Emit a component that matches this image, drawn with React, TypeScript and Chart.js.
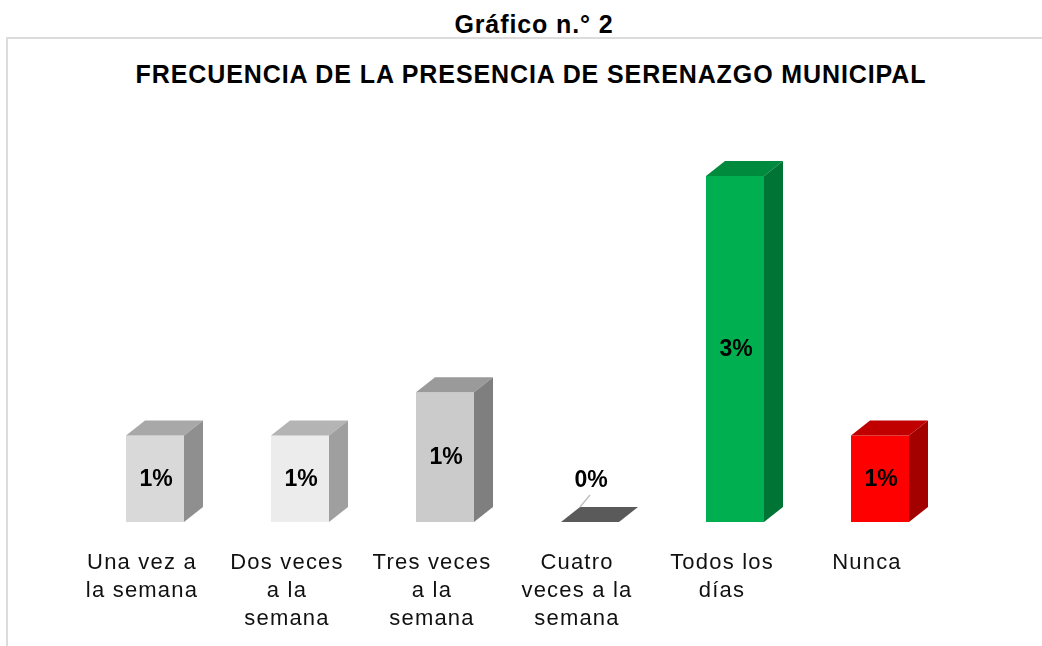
import React, { useEffect, useRef } from "react";
import { Chart, registerables } from "chart.js";

Chart.register(...registerables);

const HEADER = "Gráfico n.° 2";
const TITLE = "FRECUENCIA DE LA PRESENCIA DE SERENAZGO MUNICIPAL";

const categories: string[][] = [
  ["Una vez a", "la semana"],
  ["Dos veces", "a la", "semana"],
  ["Tres veces", "a la", "semana"],
  ["Cuatro", "veces a la", "semana"],
  ["Todos los", "días"],
  ["Nunca"],
];

// percentage values (labels are shown rounded)
const values: number[] = [0.75, 0.75, 1.125, 0, 3, 0.75];

const frontColors = ["#d9d9d9", "#ececec", "#cbcbcb", "#5a5a5a", "#00b050", "#ff0000"];
const topColors = ["#a8a8a8", "#b4b4b4", "#9a9a9a", "#5a5a5a", "#008a3e", "#c00000"];
const sideColors = ["#8f8f8f", "#9f9f9f", "#7f7f7f", "#5a5a5a", "#007434", "#a30000"];

const FONT = "'Liberation Sans', Arial, sans-serif";
const DEPTH_X = 19;
const DEPTH_Y = -15;
const LABEL_SPACING = "1.2px";

const spacingPlugin = {
  id: "spacing",
  beforeUpdate(chart: any) {
    chart.ctx.letterSpacing = LABEL_SPACING;
  },
  beforeDraw(chart: any) {
    chart.ctx.letterSpacing = LABEL_SPACING;
  },
};

const bar3dPlugin = {
  id: "bar3d",
  afterDatasetsDraw(chart: any) {
    const ctx = chart.ctx as CanvasRenderingContext2D;
    const meta = chart.getDatasetMeta(0);
    ctx.save();
    (ctx as any).letterSpacing = "0px";
    meta.data.forEach((el: any, i: number) => {
      const { x, y, base, width } = el.getProps(["x", "y", "base", "width"], true);
      const l = x - width / 2;
      const r = x + width / 2;
      // top face
      ctx.beginPath();
      ctx.moveTo(l, y);
      ctx.lineTo(l + DEPTH_X, y + DEPTH_Y);
      ctx.lineTo(r + DEPTH_X, y + DEPTH_Y);
      ctx.lineTo(r, y);
      ctx.closePath();
      ctx.fillStyle = topColors[i];
      ctx.fill();
      // side face
      if (base - y > 0.5) {
        ctx.beginPath();
        ctx.moveTo(r, y);
        ctx.lineTo(r + DEPTH_X, y + DEPTH_Y);
        ctx.lineTo(r + DEPTH_X, base + DEPTH_Y);
        ctx.lineTo(r, base);
        ctx.closePath();
        ctx.fillStyle = sideColors[i];
        ctx.fill();
      }
      // data label
      const label = Math.round(values[i]) + "%";
      ctx.font = `bold 23px ${FONT}`;
      ctx.fillStyle = "#000";
      ctx.textAlign = "center";
      ctx.textBaseline = "middle";
      if (base - y > 30) {
        ctx.fillText(label, x + 1, (y + base) / 2 + 1);
      } else {
        const ly = base - 41;
        ctx.fillText(label, x + 1, ly);
        ctx.strokeStyle = "#c0c0c0";
        ctx.lineWidth = 1.5;
        ctx.beginPath();
        ctx.moveTo(x, ly + 14);
        ctx.lineTo(l + DEPTH_X, base + DEPTH_Y);
        ctx.stroke();
      }
    });
    ctx.restore();
  },
};

function ChartCanvas() {
  const ref = useRef<HTMLCanvasElement | null>(null);
  useEffect(() => {
    if (!ref.current) return;
    const chart = new Chart(ref.current, {
      type: "bar",
      data: {
        labels: categories,
        datasets: [
          {
            data: values,
            backgroundColor: frontColors,
            borderWidth: 0,
            categoryPercentage: 1,
            barPercentage: 0.4,
          },
        ],
      },
      options: {
        animation: false,
        responsive: false,
        devicePixelRatio: 1,
        events: [],
        layout: { padding: { top: 118.33, bottom: -14, left: 82.5, right: 89.5 } },
        plugins: {
          legend: { display: false },
          title: { display: false },
          tooltip: { enabled: false },
        },
        scales: {
          x: {
            grid: { display: false, drawTicks: false },
            border: { display: false },
            ticks: {
              autoSkip: false,
              maxRotation: 0,
              minRotation: 0,
              padding: 27,
              labelOffset: -13,
              color: "#111",
              font: { family: FONT, size: 22, lineHeight: 28 / 22 },
            },
          },
          y: { display: false, min: 0, max: 3.5 },
        },
      },
      plugins: [spacingPlugin, bar3dPlugin],
    });
    return () => chart.destroy();
  }, []);
  return (
    <canvas
      ref={ref}
      width={1042}
      height={646}
      style={{ position: "absolute", left: 0, top: 0, width: 1042, height: 646 }}
    />
  );
}

export default function App() {
  return (
    <div
      style={{
        position: "absolute",
        left: 0,
        top: 0,
        width: 1042,
        height: 646,
        overflow: "hidden",
        background: "#fff",
        fontFamily: FONT,
      }}
    >
      <div
        style={{
          position: "absolute",
          left: 6,
          top: 37,
          width: 1100,
          height: 700,
          border: "2px solid #dcdcdc",
        }}
      />
      <div
        style={{
          position: "absolute",
          left: 534,
          top: 11.8,
          transform: "translateX(-50%)",
          whiteSpace: "nowrap",
          fontWeight: "bold",
          fontSize: 25,
          lineHeight: "25px",
          letterSpacing: "0.9px",
          color: "#000",
        }}
      >
        {HEADER}
      </div>
      <div
        style={{
          position: "absolute",
          left: 531,
          top: 61.8,
          transform: "translateX(-50%)",
          whiteSpace: "nowrap",
          fontWeight: "bold",
          fontSize: 25,
          lineHeight: "25px",
          letterSpacing: "0.9px",
          color: "#000",
        }}
      >
        {TITLE}
      </div>
      <ChartCanvas />
    </div>
  );
}
